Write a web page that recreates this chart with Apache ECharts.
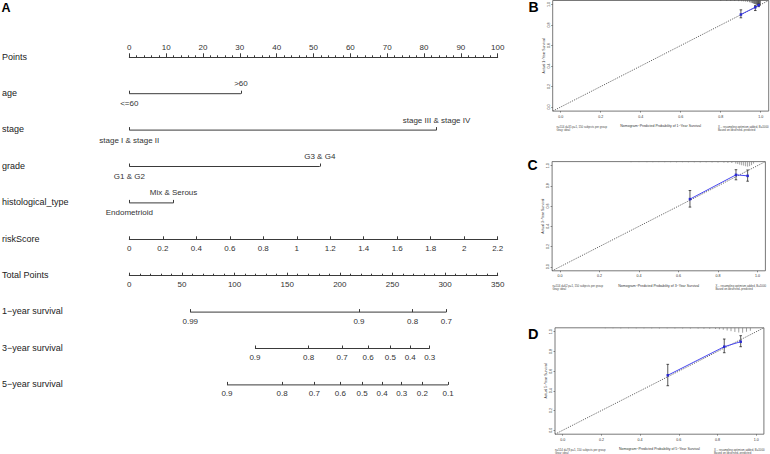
<!DOCTYPE html>
<html><head><meta charset="utf-8">
<script src="https://cdn.jsdelivr.net/npm/echarts@6/dist/echarts.min.js"></script>
<style>html,body{margin:0;padding:0;background:#fff}#c{width:770px;height:454px}</style>
</head><body><div id="c"></div><script>
// ---------- DATA ----------
const rowNames = ['Points','age','stage','grade','histological_type','riskScore','Total Points','1\u2212year survival','3\u2212year survival','5\u2212year survival'];
const pointsMax = 100;
const ageLevels = ['<=60','>60'];                 const agePts = [0, 30.3];
const stageLevels = ['stage I & stage II','stage III & stage IV']; const stagePts = [0, 83.4];
const gradeLevels = ['G1 & G2','G3 & G4'];          const gradePts = [0, 51.7];
const histLevels = ['Endometrioid','Mix & Serous']; const histPts = [0, 12.0];
const riskScoreMax = 2.2;
const totalPointsMax = 350;
const surv1Labels = ['0.99','0.9','0.8','0.7'];
const surv1Pts = [57.9, 218.2, 269.2, 301.2];
const surv3Labels = ['0.9','0.8','0.7','0.6','0.5','0.4','0.3'];
const surv3Pts = [119.4, 170.4, 202.1, 226.8, 248.0, 266.9, 285.4];
const surv5Labels = ['0.9','0.8','0.7','0.6','0.5','0.4','0.3','0.2','0.1'];
const surv5Pts = [92.8, 145.1, 175.8, 200.5, 221.1, 240.1, 258.8, 278.4, 302.8];

const calTicks = [0, 0.2, 0.4, 0.6, 0.8, 1.0];
// 1-year calibration
const predB = [0.901, 0.973, 0.990], obsB = [0.903, 0.974, 0.995];
const loB = [0.871, 0.942, 0.980], hiB = [0.949, 0.990, 1.005];
const rugBx = [0.80,0.83,0.85,0.87,0.89,0.905,0.915,0.925,0.935,0.945,0.952,0.958,0.963,0.968,0.972,0.976,0.980,0.983,0.986,0.989,0.992,0.995,0.998];
const rugBh = [0.004,0.004,0.005,0.005,0.006,0.007,0.008,0.010,0.013,0.017,0.021,0.025,0.029,0.033,0.036,0.039,0.042,0.045,0.048,0.050,0.052,0.053,0.050];
// 3-year calibration
const predC = [0.658, 0.891, 0.950], obsC = [0.669, 0.909, 0.899];
const loC = [0.590, 0.860, 0.846], hiC = [0.754, 0.960, 0.957];
const rugCx = [0.36,0.40,0.44,0.47,0.50,0.53,0.56,0.59,0.62,0.65,0.68,0.71,0.74,0.77,0.80,0.83,0.85,0.87,0.89,0.90,0.91,0.92,0.93,0.94,0.95,0.96,0.97,0.98];
const rugCh = [0.006,0.005,0.006,0.006,0.005,0.006,0.006,0.007,0.006,0.007,0.007,0.008,0.007,0.008,0.009,0.010,0.012,0.014,0.020,0.024,0.030,0.036,0.040,0.046,0.050,0.045,0.035,0.020];
// 5-year calibration
const predD = [0.543, 0.835, 0.920], obsD = [0.558, 0.848, 0.899];
const loD = [0.452, 0.787, 0.848], hiD = [0.669, 0.926, 0.960];
const rugDx = [0.22,0.26,0.30,0.34,0.38,0.42,0.46,0.50,0.54,0.58,0.62,0.66,0.70,0.73,0.76,0.79,0.81,0.83,0.85,0.87,0.89,0.91,0.93,0.95,0.97];
const rugDh = [0.005,0.005,0.006,0.005,0.006,0.006,0.006,0.007,0.006,0.007,0.007,0.008,0.008,0.009,0.010,0.012,0.015,0.020,0.028,0.034,0.042,0.048,0.050,0.040,0.030];

// ---------- LAYOUT ----------
const FONT = "'Liberation Sans', Arial, Helvetica, sans-serif";
const L = 129.3, W = 368.4, ROW0 = 57.3, GAP = 36.4, GH = 8;
const LINE = '#3a3a3a', TXT = '#333333';
const rowY = i => ROW0 + GAP * i;

const grids = [], xAxes = [], yAxes = [], series = [], graphics = [];
const G = o => Object.assign({containLabel: false, outerBoundsMode: 'none'}, o);

function hiddenY(gi, min, max) { yAxes.push({gridIndex: gi, type: 'value', min: min, max: max, show: false}); }

function baseX(gi, max, extra) {
  return Object.assign({
    gridIndex: gi, type: 'value', min: 0, max: max, position: 'bottom',
    splitLine: {show: false},
    axisLine: {show: true, onZero: false, lineStyle: {color: LINE, width: 1}},
    axisTick: {show: true, inside: true, length: 3, lineStyle: {color: LINE, width: 1}},
    axisLabel: {fontSize: 8, color: TXT, fontFamily: FONT, margin: 5, showMinLabel: true, showMaxLabel: true}
  }, extra);
}

// Row 0: Points (line at row, ticks and labels above)
grids.push(G({left: L, width: W, top: rowY(0) - GH, height: GH}));
xAxes.push(baseX(0, pointsMax, {interval: 10,
  axisTick: {show: true, inside: true, length: 4, lineStyle: {color: LINE, width: 1}},
  minorTick: {show: true, splitNumber: 5, length: 2, lineStyle: {color: LINE, width: 1}},
  axisLabel: {inside: true, fontSize: 8, color: TXT, fontFamily: FONT, margin: 6, showMinLabel: true, showMaxLabel: true}}));
hiddenY(0, 0, 1);

// Category rows
function catRow(i, levels, pts) {
  const gi = grids.length;
  grids.push(G({left: L, width: W, top: rowY(i) - GH, height: GH}));
  xAxes.push(baseX(gi, pointsMax, {
    axisLine: {show: false, onZero: false},
    axisTick: {show: true, inside: true, length: 3, customValues: pts, lineStyle: {color: LINE, width: 1}},
    axisLabel: {show: true, customValues: pts, formatter: () => '', fontSize: 8}
  }));
  hiddenY(gi, 0, 1);
  series.push({type: 'line', xAxisIndex: gi, yAxisIndex: gi, clip: false, symbol: 'none',
    lineStyle: {color: LINE, width: 1}, data: [[pts[0], 0], [pts[pts.length - 1], 0]], silent: true});
  // level labels: first below the line, others above
  series.push({type: 'custom', xAxisIndex: gi, yAxisIndex: gi, clip: false, silent: true,
    data: pts.map((p, k) => [p, 0, k]),
    renderItem: (params, api) => {
      const k = api.value(2), c = api.coord([api.value(0), 0]);
      return {type: 'text', x: c[0], y: c[1] + (k === 0 ? 10 : -10),
        style: {text: levels[k], fill: TXT, fontSize: 8, fontFamily: FONT, align: 'center', verticalAlign: 'middle'}};
    }});
}
catRow(1, ageLevels, agePts);
catRow(2, stageLevels, stagePts);
catRow(3, gradeLevels, gradePts);
catRow(4, histLevels, histPts);

// riskScore
(function () {
  const gi = grids.length;
  grids.push(G({left: L, width: W, top: rowY(5) - GH, height: GH}));
  xAxes.push(baseX(gi, riskScoreMax, {interval: 0.2,
    axisLabel: {fontSize: 8, color: TXT, fontFamily: FONT, margin: 5, showMinLabel: true, showMaxLabel: true,
      formatter: v => String(Math.round(v * 10) / 10)}}));
  hiddenY(gi, 0, 1);
})();

// Total Points
(function () {
  const gi = grids.length;
  grids.push(G({left: L, width: W, top: rowY(6) - GH, height: GH}));
  xAxes.push(baseX(gi, totalPointsMax, {interval: 50,
    minorTick: {show: true, splitNumber: 5, length: 2, lineStyle: {color: LINE, width: 1}}}));
  hiddenY(gi, 0, 1);
})();

// Survival rows
function survRow(i, labels, pts) {
  const gi = grids.length;
  grids.push(G({left: L, width: W, top: rowY(i) - GH, height: GH}));
  xAxes.push(baseX(gi, totalPointsMax, {
    axisLine: {show: false, onZero: false},
    axisTick: {show: true, inside: true, length: 3, customValues: pts, lineStyle: {color: LINE, width: 1}},
    axisLabel: {fontSize: 8, color: TXT, fontFamily: FONT, margin: 5, customValues: pts,
      formatter: v => {
        let best = 0;
        pts.forEach((p, k) => { if (Math.abs(p - v) < Math.abs(pts[best] - v)) best = k; });
        return labels[best];
      }}
  }));
  hiddenY(gi, 0, 1);
  series.push({type: 'line', xAxisIndex: gi, yAxisIndex: gi, clip: false, symbol: 'none',
    lineStyle: {color: LINE, width: 1}, data: [[pts[0], 0], [pts[pts.length - 1], 0]], silent: true});
}
survRow(7, surv1Labels, surv1Pts);
survRow(8, surv3Labels, surv3Pts);
survRow(9, surv5Labels, surv5Pts);

// Row labels
rowNames.forEach((n, i) => graphics.push({type: 'text', left: 2, top: rowY(i) - 5.3,
  style: {text: n, fontSize: 9, fill: '#222', fontFamily: FONT}}));

// ---------- Calibration panels ----------
function calib(box, yr, pred, obs, lo, hi, rx, rh, rugColor, foot) {
  const gi = grids.length;
  grids.push(G(Object.assign({show: true, borderColor: '#555', borderWidth: 0.8, backgroundColor: 'transparent'}, box)));
  const tickCfg = {show: true, inside: false, length: 1.5, customValues: calTicks, lineStyle: {color: '#444', width: 0.6}};
  const lblCfg = (rot, m) => ({customValues: calTicks, formatter: v => v.toFixed(1), fontSize: 3.6, color: TXT,
    fontFamily: FONT, margin: m, rotate: rot, showMinLabel: true, showMaxLabel: true});
  xAxes.push({gridIndex: gi, type: 'value', min: -0.04, max: 1.04, splitLine: {show: false},
    axisLine: {show: false, onZero: false}, axisTick: tickCfg, axisLabel: lblCfg(0, 3.5),
    name: 'Nomogram\u2212Predicted Probability of ' + yr + '\u2212Year Survival',
    nameLocation: 'middle', nameGap: 13, nameTextStyle: {fontSize: 3.5, color: TXT, fontFamily: FONT}});
  yAxes.push({gridIndex: gi, type: 'value', min: -0.04, max: 1.04, splitLine: {show: false},
    axisLine: {show: false, onZero: false}, axisTick: tickCfg, axisLabel: lblCfg(90, 2),
    name: 'Actual ' + yr + '\u2212Year Survival',
    nameLocation: 'middle', nameGap: 5.5, nameTextStyle: {fontSize: 3.5, color: TXT, fontFamily: FONT}});
  series.push({type: 'line', xAxisIndex: gi, yAxisIndex: gi, symbol: 'none', silent: true,
    lineStyle: {color: '#666', width: 1, type: [1.2, 1.2]}, data: [[-0.04, -0.04], [1.04, 1.04]]});
  series.push({type: 'custom', xAxisIndex: gi, yAxisIndex: gi, silent: true,
    data: rx.map((x, k) => [x, rh[k]]),
    renderItem: (p, api) => {
      const a = api.coord([api.value(0), 1.04]), b = api.coord([api.value(0), 1.04 - api.value(1)]);
      return {type: 'line', shape: {x1: a[0], y1: a[1], x2: b[0], y2: b[1]}, style: {stroke: rugColor, lineWidth: 0.7}};
    }});
  series.push({type: 'custom', xAxisIndex: gi, yAxisIndex: gi, silent: true,
    data: pred.map((x, k) => [x, lo[k], hi[k]]),
    renderItem: (p, api) => {
      const a = api.coord([api.value(0), api.value(1)]), b = api.coord([api.value(0), api.value(2)]);
      const st = {stroke: '#111', lineWidth: 0.7};
      return {type: 'group', children: [
        {type: 'line', shape: {x1: a[0], y1: a[1], x2: b[0], y2: b[1]}, style: st},
        {type: 'line', shape: {x1: a[0] - 1.3, y1: a[1], x2: a[0] + 1.3, y2: a[1]}, style: st},
        {type: 'line', shape: {x1: b[0] - 1.3, y1: b[1], x2: b[0] + 1.3, y2: b[1]}, style: st}
      ]};
    }});
  series.push({type: 'line', xAxisIndex: gi, yAxisIndex: gi, silent: true, symbol: 'rect', symbolSize: 2.5,
    lineStyle: {color: '#4848f0', width: 1}, itemStyle: {color: '#2a2ad0'},
    data: pred.map((x, k) => [x, obs[k]])});
  const fy = box.top + box.height + 15;
  const fs = {fontSize: 2.8, fill: '#444', fontFamily: FONT};
  graphics.push({type: 'text', left: foot.l, top: fy - 1.4, style: Object.assign({text: 'n=514 d=' + foot.d + ' p=1, 150 subjects per group\nGray: ideal', lineHeight: 3}, fs)});
  graphics.push({type: 'text', right: foot.r, top: fy - 1.4, style: Object.assign({text: 'X \u2212 resampling optimism added, B=1000\nBased on observed\u2212predicted', lineHeight: 3, align: 'right'}, fs)});
}
calib({left: 552.7, top: 0.5, width: 216, height: 110.6}, '1', predB, obsB, loB, hiB, rugBx, rugBh, '#333', {l: 556.5, r: 1.5, d: 35});
calib({left: 552.1, top: 161.6, width: 213.3, height: 109.2}, '3', predC, obsC, loC, hiC, rugCx, rugCh, '#777', {l: 552.5, r: 4, d: 62});
calib({left: 555, top: 327.8, width: 208.9, height: 106.4}, '5', predD, obsD, loD, hiD, rugDx, rugDh, '#777', {l: 555, r: 5.5, d: 78});

[['A', 1.5, 1.5, 12.5], ['B', 528.5, 0, 14], ['C', 527.5, 158, 14], ['D', 528, 326.5, 14.5]].forEach(t =>
  graphics.push({type: 'text', left: t[1], top: t[2], style: {text: t[0], fontSize: t[3], fontWeight: 'bold', fill: '#000', fontFamily: FONT}}));

const chart = echarts.init(document.getElementById('c'), null, {renderer: 'svg'});
chart.setOption({
  animation: false, backgroundColor: '#fff',
  grid: grids, xAxis: xAxes, yAxis: yAxes, series: series, graphic: graphics
});
</script></body></html>
